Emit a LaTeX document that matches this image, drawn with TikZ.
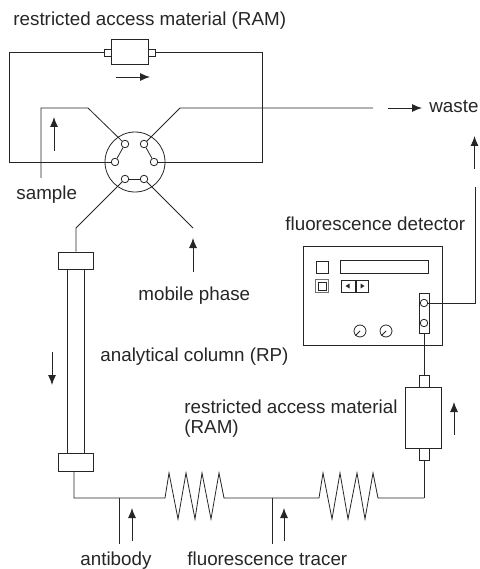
\documentclass[tikz,border=0pt]{standalone}
\usepackage{fontspec}
\setmainfont{Liberation Sans}
\usetikzlibrary{arrows.meta}
\usetikzlibrary{shapes.geometric}

\begin{document}
\begin{tikzpicture} [
        x=1pt, y=-1pt,
        line width=0.8pt, color=black!85,
        label/.style={anchor=base west, inner sep=0pt, text=black!85, font=\fontsize{18.8}{21}\selectfont},
        port/.style={draw, circle, minimum size=7.5pt, inner sep=0pt},
        dial/.style={draw, circle, minimum size=12pt, inner sep=0pt},
        block/.style={draw, rectangle, inner sep=0pt, minimum width=#1},
        block/.default=12pt,
        flow/.style={-{Latex[length=10pt,width=8pt]}, line width=0.9pt} ]
    \useasboundingbox (0,0) rectangle (479,569);

    % valve
    \node[draw, circle, minimum size=60pt, inner sep=0pt] (valve) at (135,162) {};
    \node[port] (v1) at (125,144) {};
    \node[port] (v2) at (144,144) {};
    \node[port] (v3) at (115,162) {};
    \node[port] (v4) at (154,162) {};
    \node[port] (v5) at (125,179) {};
    \node[port] (v6) at (144,179) {};
    \draw (v1) -- (v3);
    \draw (v2) -- (v4);
    \draw (v5) -- (v6);

    % loop with upper cartridge
    \node[block=37pt, minimum height=25pt] (ram1) at (129.5,51.5) {};
    \node[block=7pt, minimum height=7pt] (ram1l) at (107.5,52.5) {};
    \node[block=7pt, minimum height=7pt] (ram1r) at (151.5,52.5) {};
    \draw (ram1l) -- (ram1.west |- ram1l);
    \draw (ram1r) -- (ram1.east |- ram1r);
    \coordinate (c1) at (9,52.5);
    \coordinate (c2) at (9,162);
    \coordinate (c3) at (262,52.5);
    \coordinate (c4) at (262,162);
    \draw (ram1l) -- (c1) -- (c2) -- (v3);
    \draw (ram1r) -- (c3) -- (c4) -- (v4);

    % sample and waste
    \coordinate (s1) at (41,178);
    \coordinate (s2) at (41,108);
    \coordinate (s3) at (88,108);
    \draw (s1) -- (s2) -- (s3) -- (v1);
    \coordinate (w1) at (180,108);
    \coordinate (w2) at (373,108);
    \draw (v2) -- (w1) -- (w2);

    % column
    \node[block=35pt, minimum height=17pt] (top) at (75.5,260.5) {};
    \node[block=35pt, minimum height=18pt] (bot) at (75.5,462) {};
    \node[block=17pt, minimum height=184pt] (col) at (75.5,361) {};
    \coordinate (t1) at (76,228);
    \draw (v5) -- (t1) -- (t1 |- top.north);
    \coordinate (m1) at (193,228);
    \draw (v6) -- (m1);

    % bottom line with mixing coils
    \coordinate (b1) at (74,498);
    \coordinate (b2) at (165,498);
    \coordinate (b3) at (224,498);
    \coordinate (b4) at (319,498);
    \coordinate (b5) at (378,498);
    \coordinate (b6) at (424,498);
    \draw (b1 |- bot.south) -- (b1) -- (b2) -- (169,473) -- (178,519) -- (186,473) -- (195,519)
        -- (202,473) -- (211,519) -- (219,473) -- (b3) -- (b4) -- (323,473) -- (332,519)
        -- (340,473) -- (348,519) -- (357,473) -- (365,519) -- (373,473) -- (b5) -- (b6);
    \coordinate (j1) at (119,498);
    \coordinate (j2) at (119,544);
    \coordinate (j3) at (272,498);
    \coordinate (j4) at (272,544);
    \draw (j1) -- (j2);
    \draw (j3) -- (j4);

    % lower cartridge
    \node[block=36pt, minimum height=61pt] (ram2) at (423,417.5) {};
    \node[block=10pt, minimum height=12pt] (ram2t) at (424,381) {};
    \node[block=10pt, minimum height=12pt] (ram2b) at (424,454) {};
    \draw (ram2b) -- (b6);

    % detector
    \node[block=139pt, minimum height=99pt] (det) at (372.5,295.5) {};
    \node[block=12pt, minimum height=12pt] (key1) at (322,267) {};
    \node[block=13pt, minimum height=13pt, draw=black!55, line width=1.2pt] (key2) at (322,286) {};
    \node[block=8pt, minimum height=8pt] (key2i) at (322,286) {};
    \node[block=88pt, minimum height=13pt] (disp) at (384,266.5) {};
    \node[block=14pt, minimum height=12pt] (btn1) at (348,286) {};
    \node[block=12pt, minimum height=12pt] (btn2) at (362,286) {};
    \fill (345.5,286) -- (349.5,283.5) -- (349.5,288.5) -- cycle;
    \fill (364.5,286) -- (360.5,283.5) -- (360.5,288.5) -- cycle;
    \node[block=10pt, minimum height=40pt] (cell) at (424,313) {};
    \node[port] (o1) at (424,303) {};
    \node[port] (o2) at (424,323) {};
    \node[dial] (d1) at (360,331) {};
    \node[dial] (d2) at (386,331) {};
    \draw (d1.center) -- (d1.225);
    \draw (d2.center) -- (d2.225);
    \draw (cell) -- (ram2t);
    \coordinate (e1) at (475,303);
    \coordinate (e2) at (475,187);
    \draw (o1) -- (e1) -- (e2);

    % flow arrows
    \coordinate (f1a) at (116,77);    \coordinate (f1b) at (150,77);
    \coordinate (f2a) at (54,151);    \coordinate (f2b) at (54,117);
    \coordinate (f3a) at (388,108);   \coordinate (f3b) at (422,108);
    \coordinate (f4a) at (474.5,169); \coordinate (f4b) at (474.5,136);
    \coordinate (f5a) at (193,272);   \coordinate (f5b) at (193,238);
    \coordinate (f6a) at (52,352);    \coordinate (f6b) at (52,385);
    \coordinate (f7a) at (454,435);   \coordinate (f7b) at (454,402);
    \coordinate (f8a) at (132,541);   \coordinate (f8b) at (132,508);
    \coordinate (f9a) at (284,541);   \coordinate (f9b) at (284,508);
    \foreach \a/\b in {f1a/f1b, f2a/f2b, f3a/f3b, f4a/f4b, f5a/f5b, f6a/f6b, f7a/f7b, f8a/f8b, f9a/f9b}
        \draw[flow] (\a) -- (\b);

    % labels
    \node[label] (lram1) at (13,26) {restricted access material (RAM)};
    \node[label] (lwaste) at (429,113) {waste};
    \node[label] (lsample) at (16,200) {sample};
    \node[label] (ldet) at (285,230) {fluorescence detector};
    \node[label] (lmob) at (138,300) {mobile phase};
    \node[label] (lcol) at (100,361) {analytical column (RP)};
    \node[label] (lram2a) at (184,413) {restricted access material};
    \node[label] (lram2b) at (184,433) {(RAM)};
    \node[label] (lanti) at (80,565) {antibody};
    \node[label] (ltrac) at (187,565) {fluorescence tracer};
\end{tikzpicture}
\end{document}
